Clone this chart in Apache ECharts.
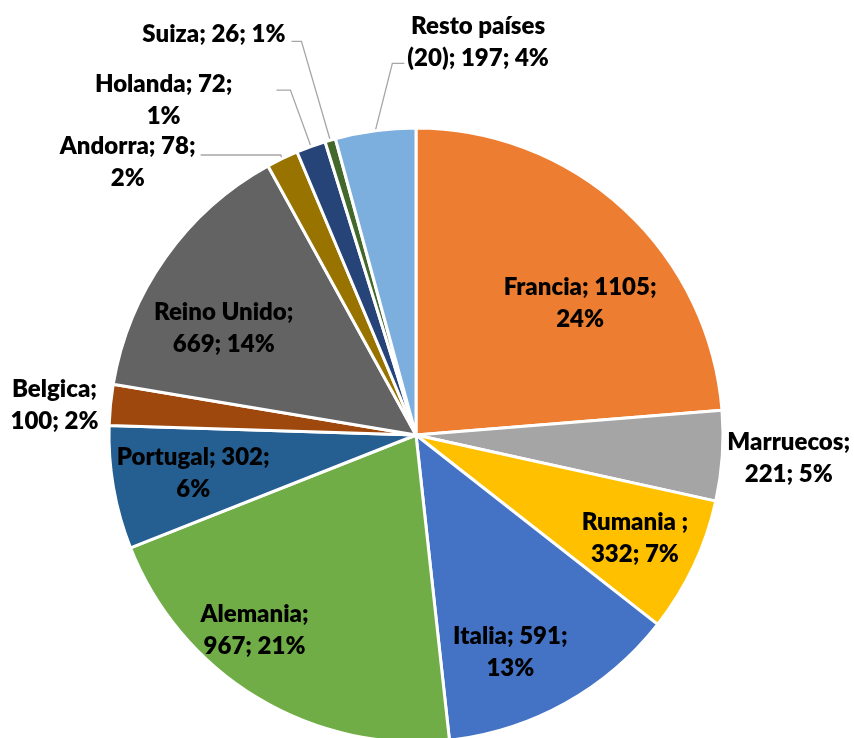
<!DOCTYPE html>
<html>
<head>
<meta charset="utf-8">
<script src="https://cdn.jsdelivr.net/npm/echarts@6/dist/echarts.min.js"></script>
<style>
html, body { margin: 0; padding: 0; background: #fff; }
#chart { width: 854px; height: 738px; }
</style>
</head>
<body>
<div id="chart"></div>
<script>
const countries = ['Francia', 'Marruecos', 'Rumania ', 'Italia', 'Alemania', 'Portugal',
  'Belgica', 'Reino Unido', 'Andorra', 'Holanda', 'Suiza', 'Resto países (20)'];
const visitors = [1105, 221, 332, 591, 967, 302, 100, 669, 78, 72, 26, 197];
const sliceColors = ['#ED7D31', '#A5A5A5', '#FFC000', '#4472C4', '#70AD47', '#255E91',
  '#9E480E', '#636363', '#997300', '#264478', '#43682B', '#7CAFDD'];
// how excel wrapped each label
const labelTemplates = [
  '{b}; {c};\n{d}%', '{b};\n{c}; {d}%', '{b};\n{c}; {d}%', '{b}; {c};\n{d}%',
  '{b};\n{c}; {d}%', '{b}; {c};\n{d}%', '{b};\n{c}; {d}%', '{b};\n{c}; {d}%',
  '{b}; {c};\n{d}%', '{b}; {c};\n{d}%', '{b}; {c}; {d}%', 'Resto países\n(20); {c}; {d}%'
];
const outsideLabels = [1, 6, 8, 9, 10, 11];

// leader lines: [length, length2, distance]
const leader = {
  1: [0, 0, 5], 6: [0, 0, 12], 8: [4, 80, 5], 9: [60, 14, 44], 10: [103, 10, 6], 11: [68, 0, 4]
};
// excel doesn't center the label block on the line end
const labelPad = { 1: [4, 0, 0, 0], 8: [15, 0, 0, 0], 9: [20, 0, 0, 0], 10: [0, 0, 14, 0] };
// small nudges for the inside labels
const nudge = { 0: [6, 40], 2: [8, 4], 3: [-19, 13], 4: [-41, -4], 5: [7, -2], 7: [-2, 28] };

const R = 307;
const textStyle = {
  fontFamily: 'Lato', fontWeight: 800, fontSize: 24, lineHeight: 32, color: '#000', align: 'center'
};

function makeFormatter(tpl) {
  return function (p) {
    return tpl.replace('{b}', p.name).replace('{c}', p.value).replace('{d}', p.percent)
      .split('\n').map(l => '{t|' + l + '}').join('\n');
  };
}

let mychart = echarts.init(document.getElementById('chart'));
mychart.setOption({
  animation: false,
  series: [{
    type: 'pie',
    center: [416, 435],
    radius: [0, R],
    startAngle: 90,
    percentPrecision: 0,
    avoidLabelOverlap: false,
    itemStyle: { borderColor: '#fff', borderWidth: 3 },
    emphasis: { disabled: true },
    label: {
      position: 'outside',
      rich: { t: textStyle }
    },
    labelLine: { lineStyle: { color: '#A6A6A6', width: 1.3 } },
    labelLayout: function (p) {
      // excel draws this leader to the right of the slice
      if (p.dataIndex !== 11 || !p.labelLinePoints) return {};
      const p0 = p.labelLinePoints[0];
      const p1 = p.labelLinePoints[1];
      const elbow = [p0[0] + 17, p1[1]];
      const end = [elbow[0] + 12, elbow[1]];
      return {
        x: end[0] + 3, y: end[1] - 21, align: 'left', verticalAlign: 'middle',
        labelLinePoints: [p0, elbow, end]
      };
    },
    data: countries.map((name, i) => {
      const out = outsideLabels.indexOf(i) >= 0;
      const l = leader[i] || [0, 0, 5];
      return {
        name: name,
        value: visitors[i],
        itemStyle: { color: sliceColors[i] },
        label: {
          show: out,
          formatter: makeFormatter(labelTemplates[i]),
          distanceToLabelLine: l[2],
          padding: labelPad[i] || 0
        },
        labelLine: { show: out && l[0] + l[1] > 0, length: l[0], length2: l[1] }
      };
    })
  }, {
    // transparent ring that only carries the inside labels
    type: 'pie',
    center: [416, 435],
    radius: [R / 2, R],
    startAngle: 90,
    percentPrecision: 0,
    silent: true,
    avoidLabelOverlap: false,
    itemStyle: { color: 'rgba(0,0,0,0)', borderWidth: 0 },
    emphasis: { disabled: true },
    label: { position: 'inside', rotate: 0, rich: { t: textStyle } },
    labelLine: { show: false },
    data: countries.map((name, i) => ({
      name: name,
      value: visitors[i],
      label: {
        show: outsideLabels.indexOf(i) < 0,
        formatter: makeFormatter(labelTemplates[i]),
        offset: nudge[i] || [0, 0]
      }
    }))
  }]
});
</script>
</body>
</html>
